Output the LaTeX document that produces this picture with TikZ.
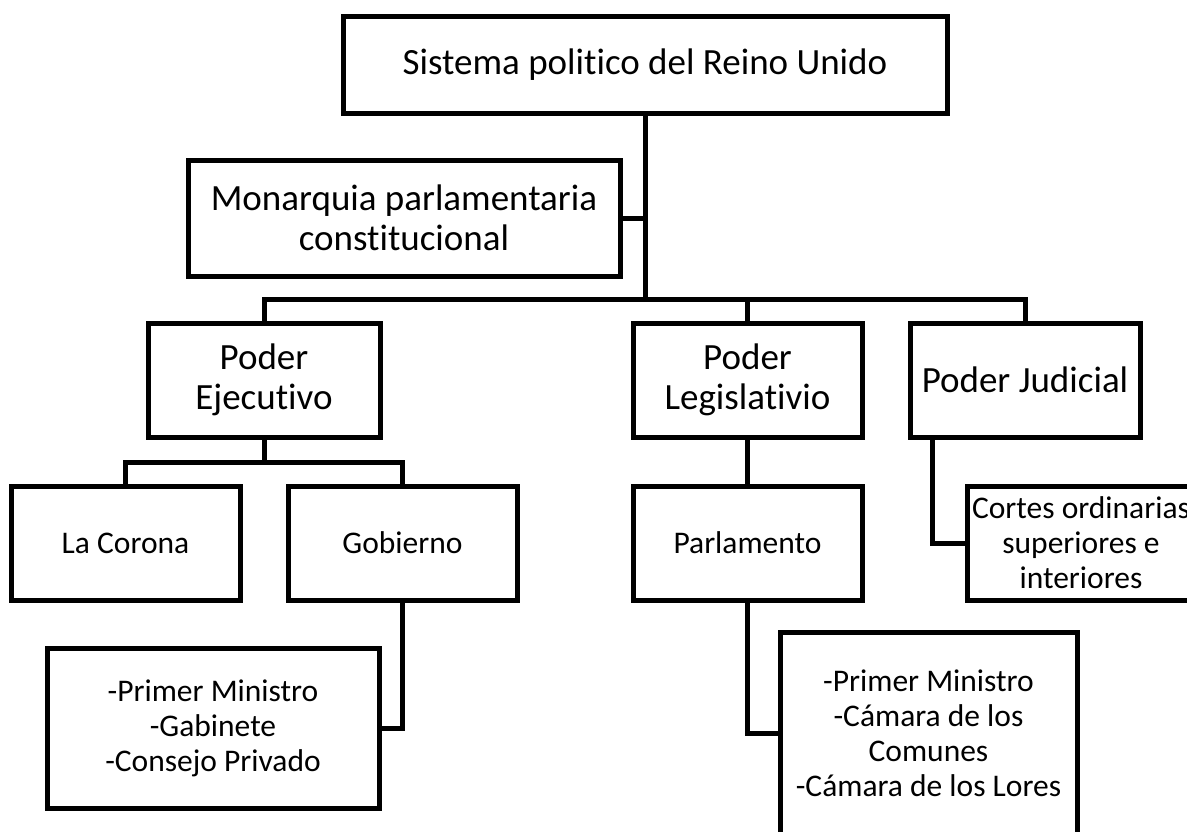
\documentclass[tikz,border=0pt]{standalone}
\usepackage{fontspec}
\setmainfont{Carlito}[Ligatures={NoCommon}]
\begin{document}
\begin{tikzpicture}[x=1pt,y=-1pt,
  box/.style={draw=black,line width=5pt,rectangle,inner sep=0pt,align=center,fill=white},
  big/.style={font=\fontsize{37}{40}\selectfont},
  small/.style={font=\fontsize{31.5}{35}\selectfont},
  conn/.style={draw=black,line width=5pt}]
\fill[white] (0,0) rectangle (1187,831);
\useasboundingbox (0,0) rectangle (1187,831);
\clip (0,0) rectangle (1187,831);
% nodes
\node[box,big,minimum width=604pt,minimum height=97pt] (top) at (645,64.5) {Sistema politico del Reino Unido};
\node[box,big,minimum width=432pt,minimum height=116pt] (mon) at (404,218) {Monarquia parlamentaria\\constitucional};
\node[box,big,minimum width=232pt,minimum height=114pt] (ejec) at (264,380) {Poder\\Ejecutivo};
\node[box,big,minimum width=229pt,minimum height=114pt] (legis) at (747.5,380) {Poder\\Legislativio};
\node[box,big,minimum width=230pt,minimum height=114pt] (jud) at (1025,380) {Poder Judicial};
\node[box,small,minimum width=229pt,minimum height=114pt] (corona) at (125.5,543) {La Corona};
\node[box,small,minimum width=229pt,minimum height=114pt] (gob) at (402.5,543) {Gobierno};
\node[box,small,minimum width=332pt,minimum height=160pt] (gobsub) at (213,728) {-Primer Ministro\\-Gabinete\\-Consejo Privado};
\node[box,small,minimum width=229pt,minimum height=114pt] (parl) at (747.5,543) {Parlamento};
\node[box,small,minimum width=297pt,minimum height=202pt] (parlsub) at (928.5,733) {-Primer Ministro\\-Cámara de los\\Comunes\\-Cámara de los Lores};
\node[box,small,minimum width=228pt,minimum height=114pt] (cortes) at (1081,543) {Cortes ordinarias\\superiores e\\interiores};
% junctions
\coordinate (j0) at (645,299);
\coordinate (j1) at (264,462);
% connectors
\draw[conn] (top.south) -- (j0);
\draw[conn] (mon.east) -- (mon.east -| j0);
\draw[conn] (ejec.north) -- (ejec.north |- j0) -- (jud.north |- j0) -- (jud.north);
\draw[conn] (legis.north) -- (legis.north |- j0);
\draw[conn] (ejec.south) -- (j1);
\draw[conn] (corona.north) -- (corona.north |- j1) -- (gob.north |- j1) -- (gob.north);
\draw[conn] (gob.south) |- (gobsub.east);
\draw[conn] (legis.south) -- (parl.north);
\draw[conn] (parl.south) |- (parlsub.west);
\draw[conn] ([xshift=25pt]jud.south west) |- (cortes.west);
\end{tikzpicture}
\end{document}
